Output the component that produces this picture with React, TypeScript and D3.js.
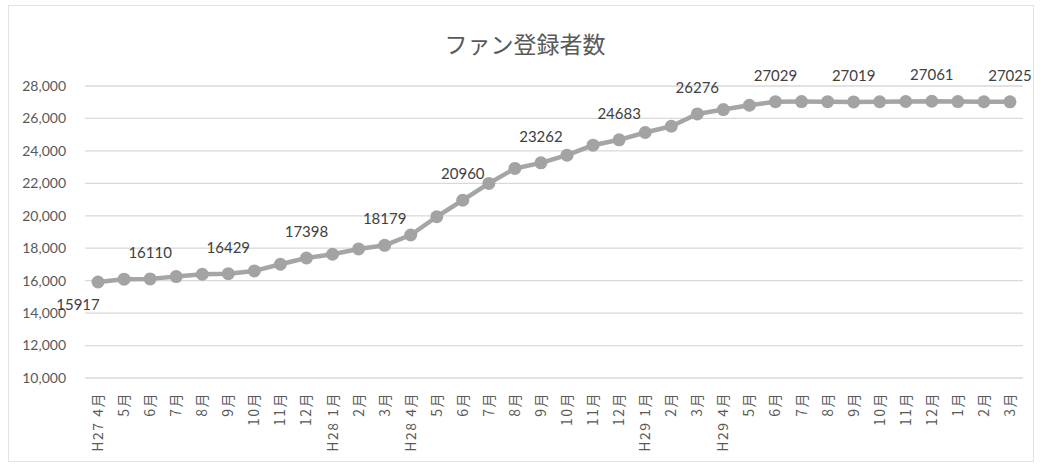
import React, { useEffect, useRef } from "react";
import * as d3 from "d3";

// month labels (H27.4 - H30.3)
const months: string[] = [
  "H27 4月", "5月", "6月", "7月", "8月", "9月", "10月", "11月", "12月",
  "H28 1月", "2月", "3月",
  "H28 4月", "5月", "6月", "7月", "8月", "9月", "10月", "11月", "12月",
  "H29 1月", "2月", "3月",
  "H29 4月", "5月", "6月", "7月", "8月", "9月", "10月", "11月", "12月",
  "1月", "2月", "3月",
];

const fans: number[] = [
  15917, 16090, 16110, 16250, 16397, 16429, 16600, 17013, 17398, 17627, 17955, 18179,
  18815, 19940, 20960, 21995, 22918, 23262, 23737, 24352, 24683, 25133, 25520, 26276,
  26547, 26812, 27029, 27040, 27035, 27019, 27030, 27045, 27061, 27040, 27030, 27025,
];

// which points get a value label
const labelled: number[] = [0, 2, 5, 8, 11, 14, 17, 20, 23, 26, 29, 32, 35];

const yTicks: number[] = [10000, 12000, 14000, 16000, 18000, 20000, 22000, 24000, 26000, 28000];

const App: React.FC = () => {
  const ref = useRef<SVGSVGElement>(null);

  useEffect(() => {
    const width = 1041,
      height = 468;
    const margin = { top: 86, right: 18, bottom: 90, left: 85 };

    const svg = d3.select(ref.current);
    svg.selectAll("*").remove();
    svg.attr("width", width).attr("height", height);

    svg
      .append("rect")
      .attr("x", 8.5)
      .attr("y", 5.5)
      .attr("width", 1025)
      .attr("height", 456)
      .attr("fill", "#fff")
      .attr("stroke", "#e3e3e3");

    const x = d3
      .scaleBand()
      .domain(months.map((_, i) => String(i)))
      .range([margin.left, width - margin.right]);

    const y = d3
      .scaleLinear()
      .domain([10000, 28000])
      .range([height - margin.bottom, margin.top]);

    const cx = (i: number) => x(String(i))! + x.bandwidth() / 2;

    // title
    svg
      .append("text")
      .attr("x", 525)
      .attr("y", 53)
      .attr("text-anchor", "middle")
      .style("font-family", "'Noto Sans CJK JP', sans-serif")
      .style("font-size", "23px")
      .style("fill", "#595959")
      .text("ファン登録者数");

    // grid lines
    svg
      .selectAll(".grid")
      .data(yTicks)
      .enter()
      .append("line")
      .attr("x1", margin.left)
      .attr("x2", width - margin.right)
      .attr("y1", (d) => y(d))
      .attr("y2", (d) => y(d))
      .attr("stroke", "#d9d9d9")
      .attr("stroke-width", 1.3);

    // y labels
    svg
      .selectAll(".ylab")
      .data(yTicks)
      .enter()
      .append("text")
      .attr("x", 66)
      .attr("y", (d) => y(d))
      .attr("dy", ".35em")
      .attr("text-anchor", "end")
      .style("font-family", "Lato, sans-serif")
      .style("font-size", "14px")
      .style("fill", "#595959")
      .text((d) => d3.format(",")(d));

    // x labels
    svg
      .selectAll(".xlab")
      .data(months)
      .enter()
      .append("text")
      .attr("transform", (_, i) => `translate(${cx(i) + 5},${height - margin.bottom + 14}) rotate(-90)`)
      .attr("text-anchor", "end")
      .style("font-family", "'Noto Sans CJK JP', sans-serif")
      .style("font-size", "14px")
      .style("letter-spacing", "1.5px")
      .style("fill", "#595959")
      .text((d) => d);

    // line
    const line = d3
      .line<number>()
      .x((_, i) => cx(i))
      .y((d) => y(d));

    svg
      .append("path")
      .datum(fans)
      .attr("d", line)
      .attr("fill", "none")
      .attr("stroke", "#a5a5a5")
      .attr("stroke-width", 4.5)
      .attr("stroke-linejoin", "round");

    svg
      .selectAll(".dot")
      .data(fans)
      .enter()
      .append("circle")
      .attr("cx", (_, i) => cx(i))
      .attr("cy", (d) => y(d))
      .attr("r", 6.5)
      .attr("fill", "#a3a3a3");

    // value labels
    svg
      .selectAll(".val")
      .data(labelled)
      .enter()
      .append("text")
      .attr("x", (i) => (i === 0 ? cx(i) - 20 : cx(i)))
      .attr("y", (i) => (i === 0 ? y(fans[i]) + 28 : y(fans[i]) - 21))
      .attr("text-anchor", "middle")
      .style("font-family", "Lato, sans-serif")
      .style("font-size", "15px")
      .style("fill", "#404040")
      .text((i) => String(fans[i]));
  }, []);

  return (
    <div style={{ position: "absolute", left: 0, top: 0 }}>
      <svg ref={ref}></svg>
    </div>
  );
};

export default App;
